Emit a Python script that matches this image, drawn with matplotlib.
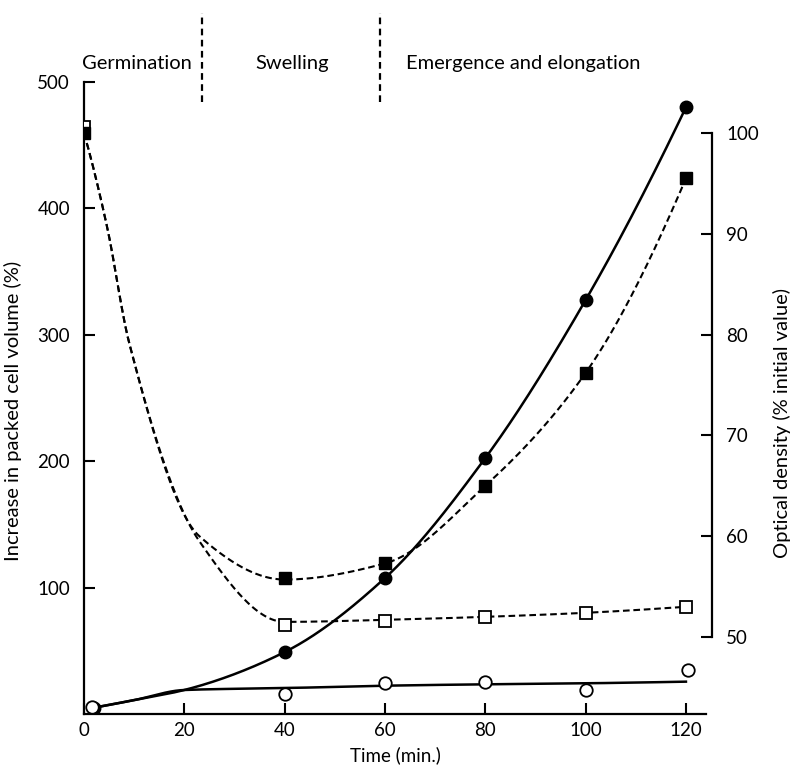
import numpy as np
import matplotlib
matplotlib.use("Agg")
import matplotlib.pyplot as plt
import matplotlib.transforms as mtransforms

plt.rcParams["font.family"] = ["Lato", "DejaVu Sans"]

# ---- data ----
# packed cell volume (%), left axis
FC_T = [2, 40, 60, 80, 100, 120]
FC_V = [5, 49, 107.6, 202.5, 327.5, 480]
OC_T = [1.5, 40, 60, 80, 100, 120.5]
OC_V = [5.5, 15.8, 24.5, 25.3, 19, 34.8]
# hand-drawn curves through them
FC_CURVE_T = [2, 10, 20, 40, 60, 80, 100, 120]
FC_CURVE_V = [5, 11, 19, 49, 107.6, 202.5, 327.5, 480]
OC_CURVE_T = [2, 10, 20, 40, 60, 80, 100, 120]
OC_CURVE_V = [5, 11, 19, 20.5, 22.4, 23.5, 24.3, 25.6]

# optical density (% initial value), right axis
FS_T = [0, 40, 60, 80, 100, 120]
FS_V = [100, 55.85, 57.3, 65.0, 76.2, 95.5]
OS_T = [0, 40, 60, 80, 100, 120]
OS_V = [100.6, 51.2, 51.6, 52.0, 52.4, 53.0]
FS_CURVE_T = [0, 4.6, 9, 23, 40, 60, 80, 100, 120]
FS_CURVE_V = [100, 90.7, 79.2, 60, 55.7, 57.3, 65, 76.2, 95.5]
OS_CURVE_T = [0, 4.6, 9, 23, 40, 60, 80, 100, 120]
OS_CURVE_V = [100, 90.7, 79.2, 59.5, 51.5, 51.7, 52.0, 52.4, 53.0]

PHASES = ["Germination", "Swelling", "Emergence and elongation"]
PHASE_POS = [10.6, 41.6, 87.6]
PHASE_BOUNDS = [23.5, 59.0]

X_TICKS = [0, 20, 40, 60, 80, 100, 120]
L_TICKS = [100, 200, 300, 400, 500]
R_TICKS = [50, 60, 70, 80, 90, 100]


def pchip(x, y, xn):
    """monotone cubic through the knots (Fritsch-Carlson)"""
    x = np.asarray(x, float)
    y = np.asarray(y, float)
    h = np.diff(x)
    d = np.diff(y) / h
    n = len(x)
    m = np.zeros(n)
    for k in range(1, n - 1):
        if d[k - 1] * d[k] > 0:
            w1 = 2 * h[k] + h[k - 1]
            w2 = h[k] + 2 * h[k - 1]
            m[k] = (w1 + w2) / (w1 / d[k - 1] + w2 / d[k])
    m[0] = ((2 * h[0] + h[1]) * d[0] - h[0] * d[1]) / (h[0] + h[1])
    if np.sign(m[0]) != np.sign(d[0]):
        m[0] = 0
    m[-1] = ((2 * h[-1] + h[-2]) * d[-1] - h[-1] * d[-2]) / (h[-1] + h[-2])
    if np.sign(m[-1]) != np.sign(d[-1]):
        m[-1] = 0
    i = np.clip(np.searchsorted(x, xn) - 1, 0, n - 2)
    t = (xn - x[i]) / h[i]
    h00 = 2 * t**3 - 3 * t**2 + 1
    h10 = t**3 - 2 * t**2 + t
    h01 = -2 * t**3 + 3 * t**2
    h11 = t**3 - t**2
    return h00 * y[i] + h10 * h[i] * m[i] + h01 * y[i + 1] + h11 * h[i] * m[i + 1]


def curve(tk, vk):
    tt = np.linspace(tk[0], tk[-1], 400)
    return tt, pchip(tk, vk, tt)


fig = plt.figure(figsize=(7.93, 7.68), dpi=100, facecolor="white")
ax = fig.add_axes([0.1059, 0.0703, 0.7844, 0.8229])
ax2 = ax.twinx()

# left axis series
ax.plot(*curve(FC_CURVE_T, FC_CURVE_V), color="black", lw=1.8, zorder=2)
ax.plot(*curve(OC_CURVE_T, OC_CURVE_V), color="black", lw=1.8, zorder=2)
ax.plot(FC_T, FC_V, "o", color="black", ms=9, zorder=4)
ax.plot(OC_T, OC_V, "o", mfc="white", mec="black", mew=1.3, ms=9, zorder=4)

# right axis series
dash = (0, (3.2, 1.8))
ax2.plot(*curve(FS_CURVE_T, FS_CURVE_V), color="black", lw=1.5, ls=dash, zorder=2)
ax2.plot(*curve(OS_CURVE_T, OS_CURVE_V), color="black", lw=1.5, ls=dash, zorder=2)
ax2.plot(OS_T, OS_V, "s", mfc="white", mec="black", mew=1.3, ms=9, zorder=4)
ax2.plot(FS_T, FS_V, "s", color="black", ms=9, zorder=5)

ax.set_xlim(0, 124)
ax.set_ylim(0, 500)
ax2.set_ylim(42.36, 105.06)

for a in (ax, ax2):
    a.spines["top"].set_visible(False)
    a.patch.set_visible(False)
ax.spines["right"].set_visible(False)
ax2.spines["left"].set_visible(False)
ax2.spines["bottom"].set_visible(False)
for s in ("left", "bottom"):
    ax.spines[s].set_linewidth(1.6)
ax2.spines["right"].set_linewidth(1.6)
ax2.spines["right"].set_position(("outward", 4.5))
ax2.spines["right"].set_bounds(50, 100)

ax.set_xticks(X_TICKS)
ax.set_yticks(L_TICKS)
ax2.set_yticks(R_TICKS)
ax.tick_params(axis="x", direction="in", length=8, width=1.5, pad=6, labelsize=13.5)
ax.tick_params(axis="y", direction="in", length=8, width=1.5, pad=10, labelsize=13.5)
ax2.tick_params(axis="y", direction="in", length=8, width=1.5, pad=10, labelsize=13.5)

ax.set_xlabel("Time (min.)", fontsize=13.5, labelpad=5)
ax.set_ylabel("Increase in packed cell volume (%)", fontsize=14.5)
ax.yaxis.set_label_coords(-0.1, 0.48)
ax2.set_ylabel("Optical density (% initial value)", fontsize=14.5, rotation=90)
ax2.yaxis.set_label_coords(1.108, 0.46)

# phase annotations above the plot
trans = mtransforms.blended_transform_factory(ax.transData, ax.transAxes)
for b in PHASE_BOUNDS:
    ax.plot([b, b], [0.968, 1.109], transform=trans, color="black", lw=1.6,
            ls=(0, (3, 2)), clip_on=False)
for name, pos in zip(PHASES, PHASE_POS):
    ax.text(pos, 1.03, name, transform=trans, ha="center", va="center", fontsize=14.5)

fig.savefig("out.png", dpi=100)
